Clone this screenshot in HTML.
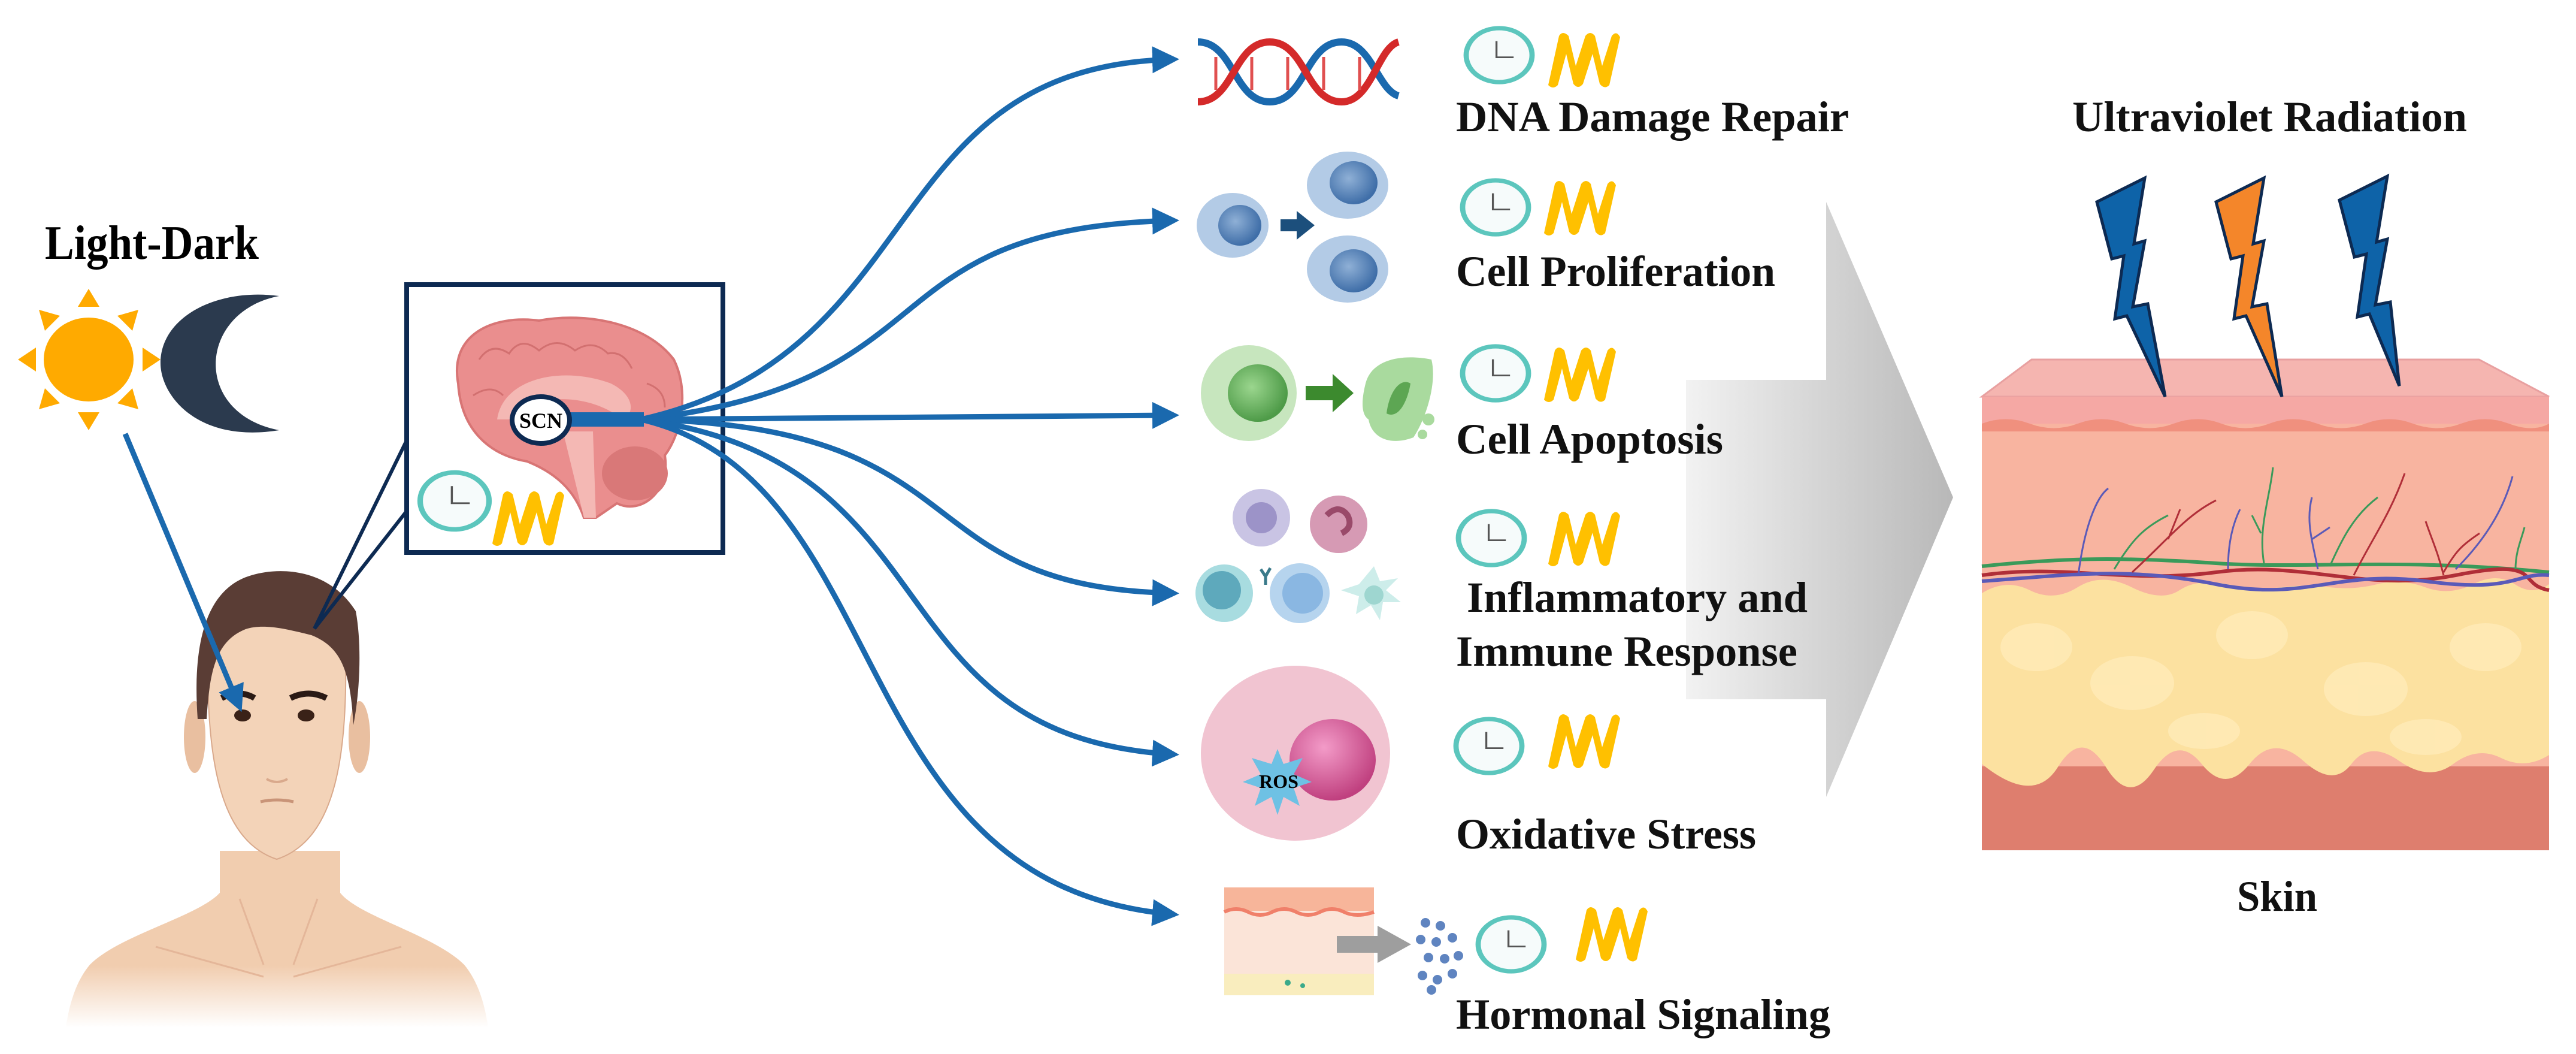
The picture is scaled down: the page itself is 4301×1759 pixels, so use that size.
<!DOCTYPE html>
<html><head><meta charset="utf-8"><style>html,body{margin:0;padding:0;background:#fff}svg{display:block}</style></head>
<body>
<svg xmlns="http://www.w3.org/2000/svg" width="4301" height="1759" viewBox="0 0 4301 1759">
<defs>
<marker id="ah" viewBox="0 0 10 10" refX="8" refY="5" markerWidth="5" markerHeight="5" orient="auto" markerUnits="strokeWidth"><path d="M0,0 L10,5 L0,10 z" fill="#1A69AE"/></marker>
<linearGradient id="gray" x1="0" x2="1" y1="0" y2="0"><stop offset="0" stop-color="#f2f2f2"/><stop offset="1" stop-color="#b8b8b8"/></linearGradient>
<linearGradient id="shoulder" x1="0" x2="0" y1="0" y2="1"><stop offset="0.65" stop-color="#F1CDAF"/><stop offset="1" stop-color="#fff"/></linearGradient>
<radialGradient id="blueCell" cx="0.4" cy="0.4" r="0.6"><stop offset="0" stop-color="#8FB0D6"/><stop offset="1" stop-color="#3F6EA8"/></radialGradient>
<radialGradient id="greenCell" cx="0.4" cy="0.4" r="0.6"><stop offset="0" stop-color="#9BD68E"/><stop offset="1" stop-color="#4E9B48"/></radialGradient>
<radialGradient id="magenta" cx="0.4" cy="0.35" r="0.65"><stop offset="0" stop-color="#F39BC8"/><stop offset="1" stop-color="#C0407F"/></radialGradient>
<g id="clock"><circle r="50" fill="#F6FBFB" stroke="#5CC6BD" stroke-width="8"/><path d="M-4,-26 V4 H22" fill="none" stroke="#555" stroke-width="3"/></g>
<path id="zz" d="M10,92 L28,10 Q34,0 44,10 L56,60 L72,10 Q80,0 88,10 L100,60 L116,10 Q124,0 130,12 L112,92 Q104,100 96,90 L84,40 L68,90 Q60,100 52,90 L40,40 L26,92 Q18,100 10,92 Z" fill="#FFC000"/>
</defs>

<!-- big gray arrow (behind labels) -->
<polygon points="2815,634 3049,634 3049,337 3261,830 3049,1330 3049,1167 2815,1167" fill="url(#gray)"/>

<!-- Light-Dark -->
<text x="75" y="432" font-family="Liberation Serif, serif" font-weight="bold" font-size="80" textLength="357" lengthAdjust="spacingAndGlyphs">Light-Dark</text>
<!-- sun -->
<g fill="#FFAA00">
<ellipse cx="148" cy="600" rx="75" ry="70"/>
<polygon points="148,482 130,512 166,512"/><polygon points="148,718 130,688 166,688"/>
<polygon points="30,600 60,580 60,620"/><polygon points="268,600 238,580 238,620"/>
<polygon points="65,517 100,527 75,552"/><polygon points="231,517 196,527 221,552"/>
<polygon points="65,683 100,673 75,648"/><polygon points="231,683 196,673 221,648"/>
</g>
<!-- moon -->
<path d="M466,494 C330,520 320,690 466,718 C330,740 268,660 268,606 C268,530 360,480 466,494 Z" fill="#2B3A4E"/>

<!-- person -->
<path d="M367,1420 L367,1490 C330,1530 200,1560 150,1610 C125,1640 115,1680 110,1715 L815,1715 C810,1680 800,1640 775,1610 C725,1560 600,1530 568,1490 L568,1420 Z" fill="url(#shoulder)"/>
<path d="M400,1500 L440,1610 M530,1500 L490,1610 M260,1580 L440,1630 M670,1580 L490,1630" stroke="#E4B699" stroke-width="3" fill="none"/>
<ellipse cx="325" cy="1230" rx="18" ry="60" fill="#E9BFA0"/>
<ellipse cx="600" cy="1230" rx="18" ry="60" fill="#E9BFA0"/>
<path d="M347,1080 C345,1250 360,1400 462,1434 C565,1400 580,1250 577,1080 C560,1000 360,1000 347,1080 Z" fill="#F3D3B8" stroke="#D9A98C" stroke-width="2"/>
<path d="M330,1200 C320,1060 350,980 420,960 C470,945 550,950 594,1020 C605,1080 600,1160 590,1210 C585,1120 570,1080 520,1060 C480,1050 440,1040 410,1050 C360,1070 350,1120 345,1200 Z" fill="#5A3D35"/>
<path d="M370,1165 Q400,1150 425,1165" stroke="#2A1A15" stroke-width="10" fill="none"/>
<path d="M485,1165 Q515,1150 545,1165" stroke="#2A1A15" stroke-width="10" fill="none"/>
<ellipse cx="405" cy="1194" rx="14" ry="10" fill="#3A2218"/>
<ellipse cx="511" cy="1194" rx="14" ry="10" fill="#3A2218"/>
<path d="M445,1300 Q462,1310 480,1300" stroke="#D9A98C" stroke-width="4" fill="none"/>
<path d="M435,1338 Q462,1332 490,1338" stroke="#C99478" stroke-width="5" fill="none"/>

<!-- light arrow -->
<line x1="209" y1="724" x2="400" y2="1180" stroke="#1A69AE" stroke-width="9" marker-end="url(#ah)"/>

<!-- callout -->
<polygon points="679,735 525,1049 679,853" fill="none" stroke="#0D2A52" stroke-width="6"/>
<rect x="679" y="475" width="528" height="447" fill="#fff" stroke="#0D2A52" stroke-width="8"/>
<!-- brain -->
<path d="M765,640 C750,560 820,525 900,535 C980,520 1080,540 1125,600 C1150,650 1140,720 1110,760 C1120,820 1070,860 1030,840 L995,864 L975,864 C960,820 930,790 880,770 C820,760 770,720 765,640 Z" fill="#EA8E8E" stroke="#D87575" stroke-width="4"/>
<g fill="none" stroke="#D27070" stroke-width="3"><path d="M800,600 q20,-30 50,-10 q20,-30 50,-5 q30,-25 60,0 q30,-20 55,5 q25,-5 40,25"/><path d="M790,660 q30,-20 50,0"/><path d="M1080,640 q30,10 30,40"/></g>
<path d="M830,700 C840,630 940,610 1020,640 C1060,660 1060,690 1040,700 C990,660 900,650 850,700 Z" fill="#F4B8B4"/>
<ellipse cx="1060" cy="790" rx="55" ry="45" fill="#D97878"/>
<path d="M940,720 L975,864 L995,864 L990,720 Z" fill="#F4B8B4"/>
<rect x="940" y="688" width="135" height="24" fill="#1A69AE"/>
<ellipse cx="903" cy="701" rx="48" ry="39" fill="#fff" stroke="#0D2A52" stroke-width="8"/>
<text x="903" y="714" text-anchor="middle" font-family="Liberation Serif, serif" font-weight="bold" font-size="36">SCN</text>
<use href="#clock" transform="translate(759,836) scale(1.15,0.95)"/>
<use href="#zz" transform="translate(812,815)"/>

<!-- connectors -->
<g fill="none" stroke="#1A69AE" stroke-width="9" marker-end="url(#ah)">
<path d="M1070,700 C1560,590 1460,110 1960,99"/>
<path d="M1070,700 C1600,640 1440,380 1960,368"/>
<path d="M1070,700 L1960,693"/>
<path d="M1070,700 C1650,710 1500,980 1960,990"/>
<path d="M1070,700 C1600,770 1450,1230 1960,1259"/>
<path d="M1070,700 C1500,800 1400,1480 1960,1526"/>
</g>

<!-- DNA -->
<g fill="none" stroke-width="12">
<path d="M2000,70 C2060,70 2060,170 2120,170 C2180,170 2180,70 2240,70 C2290,70 2300,150 2335,160" stroke="#1A69AE"/>
<path d="M2000,170 C2060,170 2060,70 2120,70 C2180,70 2180,170 2240,170 C2290,170 2300,80 2335,70" stroke="#D42A2A"/>
</g>
<g stroke="#E05050" stroke-width="5"><line x1="2030" y1="95" x2="2030" y2="150"/><line x1="2090" y1="95" x2="2090" y2="150"/><line x1="2150" y1="95" x2="2150" y2="150"/><line x1="2210" y1="95" x2="2210" y2="150"/><line x1="2270" y1="95" x2="2270" y2="150"/></g>

<!-- proliferation -->
<ellipse cx="2058" cy="376" rx="60" ry="54" fill="#B3CBE6"/><ellipse cx="2070" cy="376" rx="36" ry="34" fill="url(#blueCell)"/>
<polygon points="2138,366 2165,366 2165,352 2195,376 2165,400 2165,386 2138,386" fill="#1C4F7C"/>
<ellipse cx="2250" cy="309" rx="68" ry="56" fill="#B3CBE6"/><ellipse cx="2260" cy="305" rx="40" ry="36" fill="url(#blueCell)"/>
<ellipse cx="2250" cy="449" rx="68" ry="56" fill="#B3CBE6"/><ellipse cx="2260" cy="452" rx="40" ry="36" fill="url(#blueCell)"/>

<!-- apoptosis -->
<ellipse cx="2085" cy="656" rx="80" ry="80" fill="#C7E6BE"/><ellipse cx="2100" cy="656" rx="50" ry="48" fill="url(#greenCell)"/>
<polygon points="2180,644 2225,644 2225,624 2260,656 2225,688 2225,668 2180,668" fill="#3C8A2E"/>
<path d="M2280,640 C2290,600 2340,590 2390,600 C2400,640 2380,700 2360,730 C2320,745 2290,730 2285,700 C2270,690 2275,660 2280,640 Z" fill="#A9DA9E"/>
<path d="M2315,690 C2320,650 2340,630 2355,640 C2350,670 2335,700 2315,690 Z" fill="#5DA653"/>
<circle cx="2385" cy="700" r="10" fill="#A9DA9E"/><circle cx="2375" cy="725" r="8" fill="#A9DA9E"/>

<!-- immune -->
<circle cx="2106" cy="864" r="48" fill="#C9C4E4"/><circle cx="2106" cy="864" r="26" fill="#9C93C8"/>
<circle cx="2235" cy="875" r="48" fill="#D69AB4"/><path d="M2215,860 q20,-20 35,0 q10,20 -10,30" stroke="#9A4A6A" stroke-width="10" fill="none"/>
<circle cx="2044" cy="990" r="48" fill="#A8DCE0"/><circle cx="2040" cy="985" r="32" fill="#5EA9BC"/>
<circle cx="2170" cy="990" r="50" fill="#B6D4EE"/><circle cx="2175" cy="990" r="34" fill="#8AB7E2"/>
<path d="M2105,950 l8,12 l8,-14 M2113,962 l0,14" stroke="#3A7A8A" stroke-width="5" fill="none"/>
<path d="M2294,945 l10,25 l30,-5 l-20,20 l25,20 l-30,0 l-5,30 l-15,-25 l-25,15 l5,-30 l-30,-10 l30,-10 z" fill="#CDEDEA"/>
<circle cx="2294" cy="993" r="16" fill="#9ED6D0"/>

<!-- ROS -->
<ellipse cx="2163" cy="1257" rx="158" ry="146" fill="#F1C4D1"/>
<ellipse cx="2225" cy="1268" rx="72" ry="68" fill="url(#magenta)"/>
<polygon points="2133,1250 2143,1275 2175,1265 2160,1292 2190,1305 2160,1315 2170,1345 2143,1330 2133,1360 2123,1330 2095,1345 2105,1315 2075,1305 2105,1292 2090,1265 2123,1275" fill="#6EC1E4"/>
<text x="2135" y="1315" text-anchor="middle" font-family="Liberation Serif, serif" font-weight="bold" font-size="32">ROS</text>

<!-- small skin -->
<rect x="2044" y="1481" width="250" height="180" fill="#FBE4D8"/>
<path d="M2044,1481 H2294 V1520 H2044 Z" fill="#F7B59A"/>
<path d="M2044,1522 q20,-10 40,0 t40,0 t40,0 t40,0 t40,0 t50,0" stroke="#F0806A" stroke-width="6" fill="none"/>
<rect x="2044" y="1625" width="250" height="36" fill="#F9EDBE"/>
<circle cx="2150" cy="1640" r="5" fill="#3AAA8A"/><circle cx="2175" cy="1645" r="4" fill="#3AAA8A"/>
<polygon points="2232,1562 2300,1562 2300,1545 2356,1576 2300,1607 2300,1590 2232,1590" fill="#9E9E9E"/>
<g fill="#5F84C0"><circle cx="2380" cy="1540" r="8"/><circle cx="2405" cy="1545" r="8"/><circle cx="2372" cy="1568" r="8"/><circle cx="2398" cy="1572" r="8"/><circle cx="2425" cy="1565" r="8"/><circle cx="2385" cy="1598" r="8"/><circle cx="2412" cy="1600" r="8"/><circle cx="2435" cy="1595" r="8"/><circle cx="2375" cy="1628" r="8"/><circle cx="2400" cy="1635" r="8"/><circle cx="2425" cy="1625" r="8"/><circle cx="2390" cy="1652" r="8"/></g>

<!-- clocks & zigzags -->
<use href="#clock" transform="translate(2503,92) scale(1.1,0.9)"/><use href="#zz" transform="translate(2575,50)"/>
<use href="#clock" transform="translate(2497,346) scale(1.1,0.9)"/><use href="#zz" transform="translate(2568,297)"/>
<use href="#clock" transform="translate(2497,623) scale(1.1,0.9)"/><use href="#zz" transform="translate(2568,575)"/>
<use href="#clock" transform="translate(2490,898) scale(1.1,0.9)"/><use href="#zz" transform="translate(2575,849)"/>
<use href="#clock" transform="translate(2486,1245) scale(1.1,0.9)"/><use href="#zz" transform="translate(2575,1187)"/>
<use href="#clock" transform="translate(2523,1576) scale(1.1,0.9)"/><use href="#zz" transform="translate(2621,1509)"/>

<!-- labels -->
<g font-family="Liberation Serif, serif" font-weight="bold" font-size="72" fill="#111">
<text x="2431" y="219" textLength="656" lengthAdjust="spacingAndGlyphs">DNA Damage Repair</text>
<text x="2431" y="477" textLength="533" lengthAdjust="spacingAndGlyphs">Cell Proliferation</text>
<text x="2431" y="757" textLength="446" lengthAdjust="spacingAndGlyphs">Cell Apoptosis</text>
<text x="2449" y="1021" textLength="569" lengthAdjust="spacingAndGlyphs">Inflammatory and</text>
<text x="2431" y="1111" textLength="570" lengthAdjust="spacingAndGlyphs">Immune Response</text>
<text x="2431" y="1416" textLength="501" lengthAdjust="spacingAndGlyphs">Oxidative Stress</text>
<text x="2431" y="1717" textLength="625" lengthAdjust="spacingAndGlyphs">Hormonal Signaling</text>
<text x="3460" y="219" textLength="659" lengthAdjust="spacingAndGlyphs">Ultraviolet Radiation</text>
<text x="3735" y="1520" textLength="134" lengthAdjust="spacingAndGlyphs">Skin</text>
</g>

<!-- skin block -->
<polygon points="3309,662 3392,600 4139,600 4256,662" fill="#F5B5B0" stroke="#E8A0A0" stroke-width="3"/>
<rect x="3309" y="662" width="947" height="757" fill="#F8B4A0"/>
<rect x="3309" y="662" width="947" height="45" fill="#F5A8A4"/>
<path d="M3309,707 q40,-15 80,0 t80,0 t80,0 t80,0 t80,0 t80,0 t80,0 t80,0 t80,0 t80,0 t80,0 t67,0 V720 H3309 Z" fill="#F0907E"/>
<rect x="3309" y="1279" width="947" height="140" fill="#DE7E6E"/>
<path d="M3309,990 q40,-25 80,-5 t80,-5 t90,0 t80,5 t80,-10 t90,5 t80,0 t80,-5 t80,5 t80,-5 t70,0 t57,0 V1260 q-40,25 -80,5 t-80,10 t-90,-5 t-80,5 t-80,-5 t-90,5 t-80,0 t-80,10 t-80,-5 t-80,0 t-127,-5 Z" fill="#FCE1A0"/>
<g fill="#FFEBB8" opacity="0.8"><ellipse cx="3400" cy="1080" rx="60" ry="40"/><ellipse cx="3560" cy="1140" rx="70" ry="45"/><ellipse cx="3760" cy="1060" rx="60" ry="40"/><ellipse cx="3950" cy="1150" rx="70" ry="45"/><ellipse cx="4150" cy="1080" rx="60" ry="40"/><ellipse cx="3680" cy="1220" rx="60" ry="30"/><ellipse cx="4050" cy="1230" rx="60" ry="30"/></g>
<g fill="none" stroke-width="6">
<path d="M3309,945 C3450,930 3550,930 3700,940 S4000,930 4256,955" stroke="#3A9A5A"/>
<path d="M3309,960 C3450,940 3550,975 3700,955 S3950,990 4100,960 S4200,975 4256,985" stroke="#B02E38"/>
<path d="M3309,970 C3450,960 3550,945 3700,975 S3900,950 4050,970 S4200,955 4256,960" stroke="#5A5AB8"/>
</g>
<g fill="none" stroke-width="3">
<path d="M3470,960 C3480,880 3500,830 3520,815" stroke="#5A5AB8"/>
<path d="M3530,950 C3560,900 3580,880 3620,860" stroke="#3A9A5A"/>
<path d="M3560,955 C3620,900 3650,860 3700,835 M3620,900 L3640,850" stroke="#B02E38"/>
<path d="M3720,950 C3720,900 3730,870 3740,850" stroke="#5A5AB8"/>
<path d="M3780,940 C3770,880 3790,830 3795,780 M3775,890 L3760,860" stroke="#3A9A5A"/>
<path d="M3870,950 C3860,900 3850,870 3860,830 M3860,900 L3890,880" stroke="#5A5AB8"/>
<path d="M3890,945 C3910,900 3930,860 3970,830" stroke="#3A9A5A"/>
<path d="M3930,960 C3960,900 3990,860 4015,790" stroke="#B02E38"/>
<path d="M4080,960 C4070,920 4060,900 4050,870 M4080,955 C4100,920 4110,910 4140,890" stroke="#B02E38"/>
<path d="M4100,950 C4150,900 4180,850 4195,795" stroke="#5A5AB8"/>
<path d="M4200,950 C4200,920 4210,900 4215,880" stroke="#3A9A5A"/>
</g>

<!-- lightning bolts -->
<g stroke="#0D2A52" stroke-width="5" stroke-linejoin="miter">
<path transform="translate(3501,297)" d="M0,40 L80,0 L62,110 L80,105 L60,215 L85,210 L114,365 L50,230 L30,235 L45,130 L25,135 Z" fill="#0E63A8"/>
<path transform="translate(3700,297)" d="M0,40 L80,0 L62,110 L80,105 L60,215 L85,210 L110,365 L50,230 L30,235 L45,130 L25,135 Z" fill="#F4862A"/>
<path transform="translate(3906,294)" d="M0,40 L80,0 L62,110 L80,105 L60,215 L85,210 L100,350 L50,230 L30,235 L45,130 L25,135 Z" fill="#0E63A8"/>
</g>
</svg>
</body></html>
